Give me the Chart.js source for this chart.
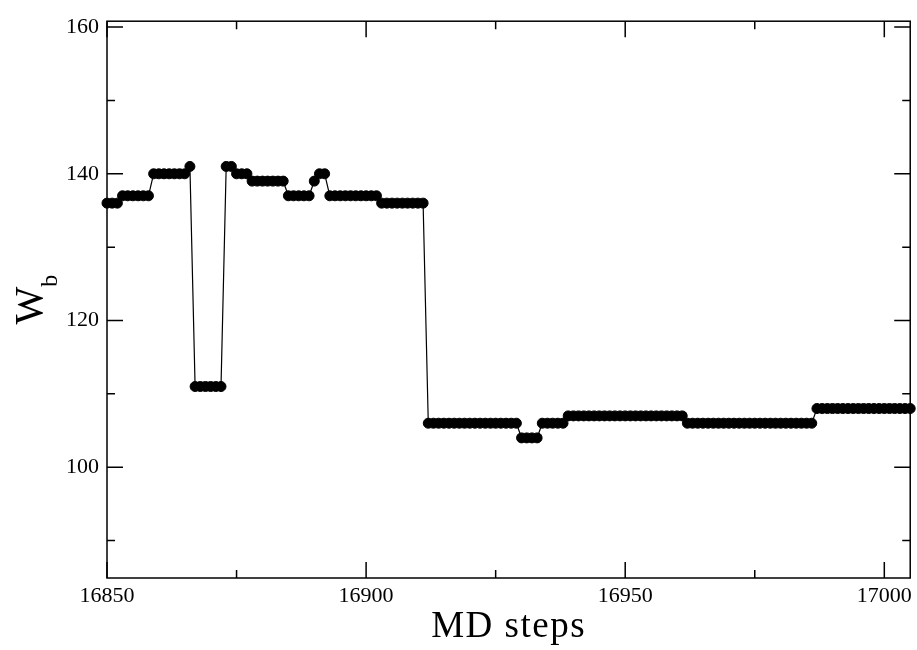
<!DOCTYPE html>
<html>
<head>
<meta charset="utf-8">
<script src="https://cdn.jsdelivr.net/npm/chart.js@4/dist/chart.umd.min.js"></script>
<style>
html,body{margin:0;padding:0;background:#fff;}
canvas{display:block;}
</style>
</head>
<body>
<canvas id="c" width="917" height="650"></canvas>
<script>
const steps = [
16850,16851,16852,16853,16854,16855,16856,16857,16858,16859,
16860,16861,16862,16863,16864,16865,16866,16867,16868,16869,
16870,16871,16872,16873,16874,16875,16876,16877,16878,16879,
16880,16881,16882,16883,16884,16885,16886,16887,16888,16889,
16890,16891,16892,16893,16894,16895,16896,16897,16898,16899,
16900,16901,16902,16903,16904,16905,16906,16907,16908,16909,
16910,16911,16912,16913,16914,16915,16916,16917,16918,16919,
16920,16921,16922,16923,16924,16925,16926,16927,16928,16929,
16930,16931,16932,16933,16934,16935,16936,16937,16938,16939,
16940,16941,16942,16943,16944,16945,16946,16947,16948,16949,
16950,16951,16952,16953,16954,16955,16956,16957,16958,16959,
16960,16961,16962,16963,16964,16965,16966,16967,16968,16969,
16970,16971,16972,16973,16974,16975,16976,16977,16978,16979,
16980,16981,16982,16983,16984,16985,16986,16987,16988,16989,
16990,16991,16992,16993,16994,16995,16996,16997,16998,16999,
17000,17001,17002,17003,17004,17005
];
const wb = [
136,136,136,137,137,137,137,137,137,140,
140,140,140,140,140,140,141,111,111,111,
111,111,111,141,141,140,140,140,139,139,
139,139,139,139,139,137,137,137,137,137,
139,140,140,137,137,137,137,137,137,137,
137,137,137,136,136,136,136,136,136,136,
136,136,106,106,106,106,106,106,106,106,
106,106,106,106,106,106,106,106,106,106,
104,104,104,104,106,106,106,106,106,107,
107,107,107,107,107,107,107,107,107,107,
107,107,107,107,107,107,107,107,107,107,
107,107,106,106,106,106,106,106,106,106,
106,106,106,106,106,106,106,106,106,106,
106,106,106,106,106,106,106,108,108,108,
108,108,108,108,108,108,108,108,108,108,
108,108,108,108,108,108
];
const xMajorTicks = [16850, 16900, 16950, 17000];
const xMinorTicks = [16875, 16925, 16975];
const yMajorTicks = [100, 120, 140, 160];
const yMinorTicks = [90, 110, 130, 150];
const xTitle = "MD steps";
const yTitleMain = "W";
const yTitleSub = "b";

const FONT = "'Liberation Serif', 'DejaVu Serif', serif";

const framePlugin = {
  id: 'frame',
  afterDraw(chart) {
    const ctx = chart.ctx;
    const a = chart.chartArea;
    const xs = chart.scales.x, ys = chart.scales.y;
    ctx.save();
    ctx.strokeStyle = '#000';
    ctx.lineWidth = 1.5;
    ctx.strokeRect(a.left, a.top, a.right - a.left, a.bottom - a.top);
    ctx.beginPath();
    const tickX = (v, len) => {
      const px = xs.getPixelForValue(v);
      ctx.moveTo(px, a.bottom); ctx.lineTo(px, a.bottom - len);
      ctx.moveTo(px, a.top); ctx.lineTo(px, a.top + len);
    };
    const tickY = (v, len) => {
      const py = ys.getPixelForValue(v);
      ctx.moveTo(a.left, py); ctx.lineTo(a.left + len, py);
      ctx.moveTo(a.right, py); ctx.lineTo(a.right - len, py);
    };
    xMajorTicks.forEach(v => tickX(v, 16));
    xMinorTicks.forEach(v => tickX(v, 8));
    yMajorTicks.forEach(v => tickY(v, 16));
    yMinorTicks.forEach(v => tickY(v, 8));
    ctx.stroke();

    // x title
    ctx.fillStyle = '#000';
    ctx.font = "37px " + FONT;
    try { ctx.letterSpacing = '1.5px'; } catch (e) {}
    ctx.textAlign = 'center';
    ctx.textBaseline = 'alphabetic';
    ctx.fillText(xTitle, (a.left + a.right) / 2, 637);
    try { ctx.letterSpacing = '0px'; } catch (e) {}

    // y title with subscript
    const cy = (a.top + a.bottom) / 2;
    ctx.translate(41.7, cy);
    ctx.rotate(-Math.PI / 2);
    ctx.textAlign = 'left';
    ctx.font = "40px " + FONT;
    const wW = ctx.measureText(yTitleMain).width;
    ctx.font = "24px " + FONT;
    const wB = ctx.measureText(yTitleSub).width;
    const start = -(wW + wB) / 2;
    ctx.font = "40px " + FONT;
    ctx.fillText(yTitleMain, start, 0);
    ctx.font = "24px " + FONT;
    ctx.fillText(yTitleSub, start + wW, 15);
    ctx.restore();
  }
};

const points = steps.map((s, i) => ({ x: s, y: wb[i] }));

new Chart(document.getElementById('c'), {
  type: 'line',
  data: {
    datasets: [{
      data: points,
      borderColor: '#000',
      borderWidth: 1.2,
      backgroundColor: '#000',
      pointBackgroundColor: '#000',
      pointBorderColor: '#000',
      pointRadius: 5,
      pointBorderWidth: 1,
      tension: 0,
      clip: false
    }]
  },
  options: {
    responsive: false,
    animation: false,
    layout: { padding: { left: 0, right: 4, top: 15, bottom: 0 } },
    plugins: { legend: { display: false }, tooltip: { enabled: false } },
    scales: {
      x: {
        type: 'linear',
        min: 16850,
        max: 17005,
        afterBuildTicks(scale) { scale.ticks = xMajorTicks.map(v => ({ value: v })); },
        afterFit(scale) { scale.height = 72; },
        grid: { display: false, drawTicks: false },
        border: { display: false },
        ticks: {
          padding: 5,
          color: '#000',
          font: { family: FONT, size: 22 },
          maxRotation: 0,
          callback: v => String(v)
        }
      },
      y: {
        type: 'linear',
        min: 84.9,
        max: 160.8,
        afterBuildTicks(scale) { scale.ticks = yMajorTicks.map(v => ({ value: v })); },
        afterFit(scale) { scale.width = 107; },
        grid: { display: false, drawTicks: false },
        border: { display: false },
        ticks: {
          padding: 8,
          color: '#000',
          font: { family: FONT, size: 22 },
          callback: v => String(v)
        }
      }
    }
  },
  plugins: [framePlugin]
});
</script>
</body>
</html>
